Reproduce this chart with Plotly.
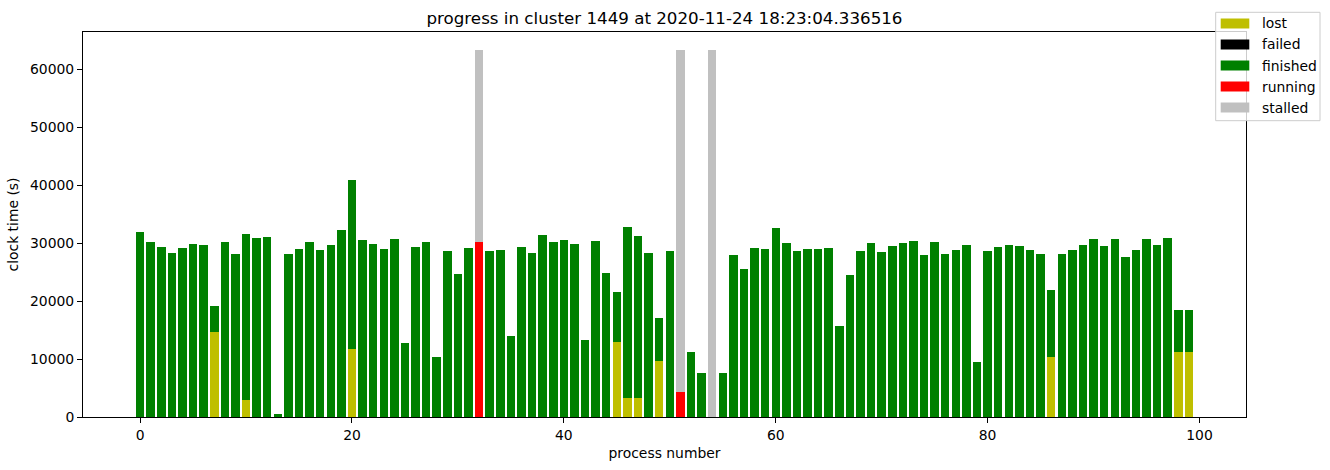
import plotly.graph_objects as go

# ---------------- data ----------------
process = list(range(100))

lost = [
    0, 0, 0, 0, 0, 0, 0, 14700, 0, 0,
    3000, 0, 0, 0, 0, 0, 0, 0, 0, 0,
    11800, 0, 0, 0, 0, 0, 0, 0, 0, 0,
    0, 0, 0, 0, 0, 0, 0, 0, 0, 0,
    0, 0, 0, 0, 0, 13000, 3300, 3300, 0, 9700,
    0, 0, 0, 0, 0, 0, 0, 0, 0, 0,
    0, 0, 0, 0, 0, 0, 0, 0, 0, 0,
    0, 0, 0, 0, 0, 0, 0, 0, 0, 0,
    0, 0, 0, 0, 0, 0, 10400, 0, 0, 0,
    0, 0, 0, 0, 0, 0, 0, 0, 11250, 11250,
]

failed = [
    0, 0, 0, 0, 0, 0, 0, 0, 0, 0,
    0, 0, 0, 0, 0, 0, 0, 0, 0, 0,
    0, 0, 0, 0, 0, 0, 0, 0, 0, 0,
    0, 0, 0, 0, 0, 0, 0, 0, 0, 0,
    0, 0, 0, 0, 0, 0, 0, 0, 0, 0,
    0, 0, 0, 0, 0, 0, 0, 0, 0, 0,
    0, 0, 0, 0, 0, 0, 0, 0, 0, 0,
    0, 0, 0, 0, 0, 0, 0, 0, 0, 0,
    0, 0, 0, 0, 0, 0, 0, 0, 0, 0,
    0, 0, 0, 0, 0, 0, 0, 0, 0, 0,
]

finished = [
    31950, 30200, 29350, 28350, 29200, 29900, 29700, 4500, 30200, 28150,
    28600, 30900, 31100, 550, 28150, 29000, 30200, 28850, 29700, 32300,
    29100, 30550, 29900, 29000, 30750, 12800, 29350, 30200, 10400, 28650,
    24700, 29200, 0, 28650, 28850, 14000, 29350, 28350, 31450, 30200,
    30550, 29900, 13350, 30400, 24900, 8600, 29500, 27950, 28350, 7400,
    28650, 0, 11250, 7650, 0, 7650, 28000, 25550, 29200, 29000,
    32650, 30050, 28650, 29000, 29000, 29200, 15750, 24550, 28650, 30050,
    28500, 29550, 30050, 30400, 28000, 30200, 28150, 28850, 29700, 9550,
    28650, 29350, 29700, 29550, 28850, 28150, 11550, 28150, 28850, 29700,
    30750, 29550, 30750, 27650, 28850, 30750, 29700, 30900, 7250, 7250,
]

running = [
    0, 0, 0, 0, 0, 0, 0, 0, 0, 0,
    0, 0, 0, 0, 0, 0, 0, 0, 0, 0,
    0, 0, 0, 0, 0, 0, 0, 0, 0, 0,
    0, 0, 30200, 0, 0, 0, 0, 0, 0, 0,
    0, 0, 0, 0, 0, 0, 0, 0, 0, 0,
    0, 4350, 0, 0, 0, 0, 0, 0, 0, 0,
    0, 0, 0, 0, 0, 0, 0, 0, 0, 0,
    0, 0, 0, 0, 0, 0, 0, 0, 0, 0,
    0, 0, 0, 0, 0, 0, 0, 0, 0, 0,
    0, 0, 0, 0, 0, 0, 0, 0, 0, 0,
]

stalled = [
    0, 0, 0, 0, 0, 0, 0, 0, 0, 0,
    0, 0, 0, 0, 0, 0, 0, 0, 0, 0,
    0, 0, 0, 0, 0, 0, 0, 0, 0, 0,
    0, 0, 33100, 0, 0, 0, 0, 0, 0, 0,
    0, 0, 0, 0, 0, 0, 0, 0, 0, 0,
    0, 58950, 0, 0, 63300, 0, 0, 0, 0, 0,
    0, 0, 0, 0, 0, 0, 0, 0, 0, 0,
    0, 0, 0, 0, 0, 0, 0, 0, 0, 0,
    0, 0, 0, 0, 0, 0, 0, 0, 0, 0,
    0, 0, 0, 0, 0, 0, 0, 0, 0, 0,
]

series_names = ["lost", "failed", "finished", "running", "stalled"]
series_colors = ["#bfbf00", "#000000", "#008000", "#ff0000", "#c0c0c0"]
series_values = [lost, failed, finished, running, stalled]

x_ticks = [0, 20, 40, 60, 80, 100]
y_ticks = [0, 10000, 20000, 30000, 40000, 50000, 60000]

title_text = "progress in cluster 1449 at 2020-11-24 18:23:04.336516"
x_title = "process number"
y_title = "clock time (s)"

# ---------------- layout geometry ----------------
W, H = 1330, 470
ML, MR, MT, MB = 83, 84, 32, 53
PW = W - ML - MR
PH = H - MT - MB
FONT = "DejaVu Sans"


def px2x(px):
    return (px - ML) / PW


def py2y(py):
    return (H - MB - py) / PH


fig = go.Figure()
for name, color, vals in zip(series_names, series_colors, series_values):
    fig.add_trace(go.Bar(
        x=process, y=vals, name=name, width=0.8,
        marker=dict(color=color, line=dict(width=0)),
        showlegend=False,
    ))

max_top = max(l + f + fi + r + s for l, f, fi, r, s in zip(lost, failed, finished, running, stalled))
x_lo, x_hi = min(process) - 0.4, max(process) + 0.4
x_pad = 0.05 * (x_hi - x_lo)

fig.update_layout(
    width=W, height=H, autosize=False,
    margin=dict(l=ML, r=MR, t=MT, b=MB, pad=0),
    paper_bgcolor="white", plot_bgcolor="white",
    barmode="stack", bargap=0,
    font=dict(family=FONT, size=13.9, color="black"),
    title=dict(text=title_text, x=0.5, xref="paper", xanchor="center",
               y=1 - 18 / H, yref="container", yanchor="middle",
               font=dict(family=FONT, size=16.7, color="black")),
    xaxis=dict(range=[x_lo - x_pad, x_hi + x_pad], tickmode="array", tickvals=x_ticks,
               ticktext=[str(t) for t in x_ticks],
               showline=True, mirror=True, linecolor="black", linewidth=1,
               ticks="outside", ticklen=5, tickwidth=1, tickcolor="black",
               showgrid=False, zeroline=False,
               title=dict(text=x_title, standoff=6, font=dict(family=FONT, size=13.9))),
    yaxis=dict(range=[0, max_top * 1.05], tickmode="array", tickvals=y_ticks,
               ticktext=[str(t) for t in y_ticks],
               showline=True, mirror=True, linecolor="black", linewidth=1,
               ticks="outside", ticklen=5, tickwidth=1, tickcolor="black",
               showgrid=False, zeroline=False,
               title=dict(text=y_title, standoff=8, font=dict(family=FONT, size=13.9))),
)

# ---------------- legend (drawn like matplotlib's) ----------------
shapes = []
annotations = []
box_l, box_r, box_t, box_b = 1215.7, 1320, 12.3, 120.7
shapes.append(dict(type="rect", xref="paper", yref="paper",
                   x0=px2x(box_l), x1=px2x(box_r), y0=py2y(box_b), y1=py2y(box_t),
                   line=dict(color="#cccccc", width=1),
                   fillcolor="rgba(255,255,255,0.8)", layer="above"))
row_y0 = 23.5
row_dy = 21.0
for i, (name, color) in enumerate(zip(series_names, series_colors)):
    cy = row_y0 + i * row_dy
    shapes.append(dict(type="rect", xref="paper", yref="paper",
                       x0=px2x(1220.7), x1=px2x(1249.3),
                       y0=py2y(cy + 5), y1=py2y(cy - 5),
                       line=dict(width=0), fillcolor=color, layer="above"))
    annotations.append(dict(text=name, xref="paper", yref="paper",
                            x=px2x(1260), y=py2y(cy), xanchor="left", yanchor="middle",
                            showarrow=False, font=dict(family=FONT, size=13.9, color="black")))

fig.update_layout(shapes=shapes, annotations=annotations)

fig.write_html("out.html")
